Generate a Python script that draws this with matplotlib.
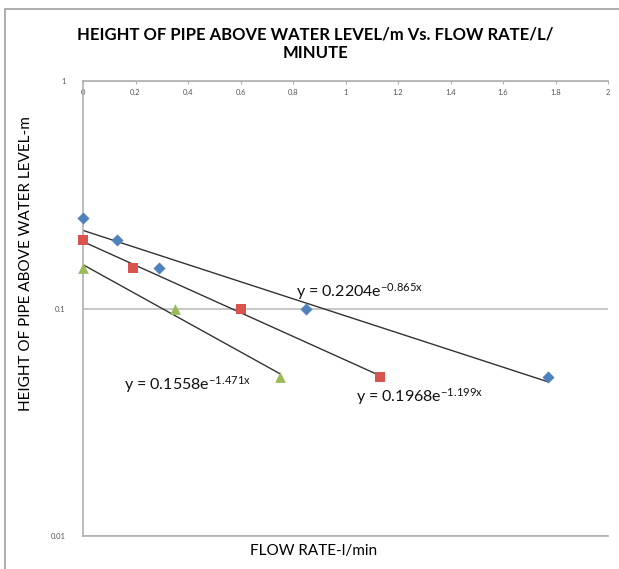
import matplotlib.pyplot as plt
import numpy as np
from matplotlib.patches import Rectangle

# data
blue_x = [0.0, 0.13, 0.29, 0.85, 1.77]
blue_y = [0.25, 0.20, 0.15, 0.10, 0.05]
red_x = [0.0, 0.19, 0.60, 1.13]
red_y = [0.20, 0.15, 0.10, 0.05]
green_x = [0.0, 0.35, 0.75]
green_y = [0.15, 0.10, 0.05]

# trendline coefficients y = a*exp(b*x), as printed on the chart
fit_a = [0.2204, 0.1968, 0.1558]
fit_b = [-0.865, -1.199, -1.471]
fit_labels = [r'y = 0.2204e$^{-0.865x}$', r'y = 0.1968e$^{-1.199x}$', r'y = 0.1558e$^{-1.471x}$']

x_ticks = [0, 0.2, 0.4, 0.6, 0.8, 1, 1.2, 1.4, 1.6, 1.8, 2]
x_ticklabels = ['0', '0.2', '0.4', '0.6', '0.8', '1', '1.2', '1.4', '1.6', '1.8', '2']
y_ticks = [0.01, 0.1, 1]
y_ticklabels = ['0.01', '0.1', '1']

plt.rcParams['font.family'] = ['Lato', 'DejaVu Sans']
plt.rcParams['mathtext.fontset'] = 'custom'
plt.rcParams['mathtext.rm'] = 'Lato'
plt.rcParams['mathtext.it'] = 'Lato'

W, H = 619, 569
fig = plt.figure(figsize=(W / 100, H / 100), dpi=100)
fig.patch.set_facecolor('white')

# outer frame (runs off the right and bottom edges)
fig.patches.append(Rectangle((5 / W, -0.1), 1.2, 1 - 9 / H + 0.1, transform=fig.transFigure,
                             fill=False, edgecolor='#a0a0a0', linewidth=1.2))

ax = fig.add_axes([83 / W, 1 - 536 / H, (608 - 83) / W, (536 - 81) / H])
ax.set_yscale('log')
ax.set_xlim(0, 2)
ax.set_ylim(0.01, 1)

# series
ax.scatter(blue_x, blue_y, marker='D', s=38, color='#4f81bd', zorder=3, linewidths=0, clip_on=False)
ax.scatter(red_x, red_y, marker='s', s=60, color='#d9534f', zorder=3, linewidths=0, clip_on=False)
ax.scatter(green_x, green_y, marker='^', s=60, color='#9bbb59', zorder=3, linewidths=0, clip_on=False)

# trendlines from x=0 to last point
for xs, a, b in zip([blue_x, red_x, green_x], fit_a, fit_b):
    xl = np.array([0, max(xs)])
    ax.plot(xl, a * np.exp(b * xl), color='#333333', linewidth=1.0, zorder=2)

ax.text(0.81, 0.107, fit_labels[0], fontsize=11.5, color='#111111', ha='left', va='bottom')
ax.text(1.04, 0.0455, fit_labels[1], fontsize=11.5, color='#111111', ha='left', va='top')
ax.text(0.155, 0.0515, fit_labels[2], fontsize=11.5, color='#111111', ha='left', va='top')

# axes styling
ax.grid(True, axis='y', which='major', color='#bdbdbd', linewidth=1.2)
ax.set_axisbelow(True)
ax.minorticks_off()
for s in ['top', 'left', 'bottom']:
    ax.spines[s].set_color('#b0b0b0')
    ax.spines[s].set_linewidth(1.2)
ax.spines['right'].set_visible(False)

ax.set_xticks(x_ticks)
ax.set_xticklabels(x_ticklabels)
ax.set_yticks(y_ticks)
ax.set_yticklabels(y_ticklabels)
ax.tick_params(axis='x', top=True, labeltop=True, bottom=False, labelbottom=False,
               direction='in', length=2, color='#b0b0b0', pad=-11, labelsize=5.5, labelcolor='#555555')
ax.tick_params(axis='y', left=False, labelsize=5.5, labelcolor='#555555', pad=9)

fig.text(315 / W, 1 - 44 / H, 'HEIGHT OF PIPE ABOVE WATER LEVEL/m Vs. FLOW RATE/L/\nMINUTE',
         ha='center', va='center', fontsize=12, fontweight='bold', linespacing=1.2)
fig.text(26 / W, 1 - 264 / H, 'HEIGHT OF PIPE ABOVE WATER LEVEL-m', rotation=90,
         ha='center', va='center', fontsize=11)
fig.text(314 / W, 1 - 551 / H, 'FLOW RATE-l/min', ha='center', va='center', fontsize=11)

fig.savefig('out.png', dpi=100)
